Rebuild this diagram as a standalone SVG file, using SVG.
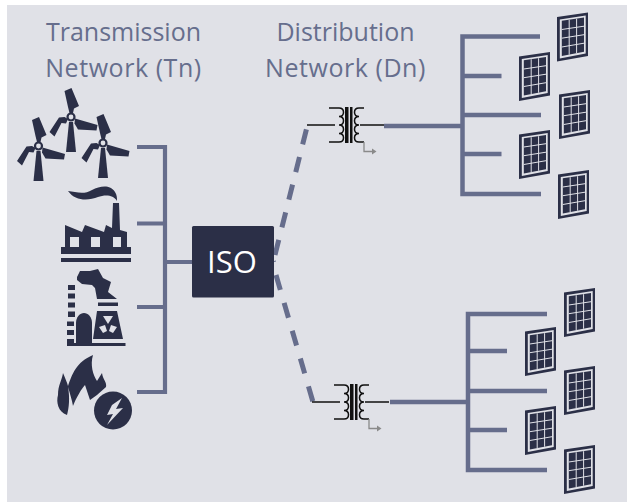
<svg xmlns="http://www.w3.org/2000/svg" width="627" height="502" viewBox="0 0 627 502">
<style>
.t{font-family:"Open Sans","Noto Sans",sans-serif;font-size:25px;fill:#666e8d;text-anchor:middle}
.n{letter-spacing:.55px}
.b{fill:none;stroke:#666d8c;stroke-width:4.500}
.th{stroke-width:4.200}
.dash{stroke-width:5}
.d{fill:#2b2f47}
.x{fill:none;stroke:#111;stroke-width:1.500}
</style>
<defs>
<g id="panel">
<path class="d" d="M0 4.500L31 0V43.500L0 49Z"/>
<path d="M2.800 7L28.700 3V40.900L2.800 45.900Z" fill="#e0e1e7"/>
<path class="d" d="M4.800 8.300L27 5.000V39.200L4.800 43.600Z"/>
<path stroke="#e0e1e7" stroke-width="1" fill="none" d="M12.200 7.300V42.200M19.600 6.200V40.700M4.800 17L27 13.700M4.800 25.700L27 22.200M4.800 34.500L27 30.700"/>
</g>
<g id="turbine">
<path class="d" d="M-2 5L2 5L5 35H-5Z"/>
<path class="d" d="M-6.500 -26L0.500 -29L8 -11L3 -8.500L2 -4L-1.500 -4L-3 -10Z"/>
<path class="d" d="M-21.500 15L-12 0.500L-6.500 0L-3 2L-5 6.500L-9.500 6L-16.500 19.500Z"/>
<path class="d" d="M4 1.500L26.500 8L25.500 13.500L7 12.500L3.500 6.500Z"/>
<circle cx="0" cy="0" r="3.500" fill="#e0e1e7" stroke="#2b2f47" stroke-width="2.200"/>
</g>
<g id="xfmr">
<path class="x" d="M0 17H28M22 0H32C38 0 38 8.500 32 8.500C38 8.500 38 17 32 17C38 17 38 25.500 32 25.500C38 25.500 38 34 32 34H22"/>
<path class="x" d="M53 17H77M57 0H52C46 0 46 8.500 52 8.500C46 8.500 46 17 52 17C46 17 46 25.500 52 25.500C46 25.500 46 34 52 34H57"/>
<path d="M38 -1H41.500V35H38ZM43 -1H45.500V35H43Z" fill="#111"/>
<path d="M57 34V43.500H65" fill="none" stroke="#8a8a8a" stroke-width="1.300"/>
<path d="M65 40.500L69.500 43.500L65 46.500Z" fill="#8a8a8a"/>
</g>
</defs>
<rect width="627" height="502" fill="#fff"/>
<rect x="7" y="5" width="620" height="497" fill="#e0e1e7"/>
<text class="t" x="123.500" y="41">Transmission</text>
<text class="t n" x="123.500" y="77">Network (Tn)</text>
<text class="t" x="345.500" y="41">Distribution</text>
<text class="t n" x="345.500" y="77">Network (Dn)</text>
<g id="connectors">
<path class="b th" d="M137 147H165V392H137M137 223.500H165M137 307H165M165 262H192"/>
<path class="b dash" d="M275 255L307 127" stroke-dasharray="15.500 13"/>
<path class="b dash" d="M276 275L313 402" stroke-dasharray="15.500 13.500"/>
<path d="M272 262L276 261" stroke="#666d8c" stroke-width="1" fill="none"/>
<path class="b" d="M384 126H462.500M540 36.500H462.500V194H541M462.500 76H501.500M462.500 115H541M462.500 154H501.500"/>
<path class="b" d="M390 402H468M547 314H468V470H547M468 351H507M468 391H547M468 430H507"/>
</g>
<g id="iso"><rect x="192" y="226" width="82" height="71.500" rx="1.500" class="d"/><text x="232" y="273" font-family="'Open Sans','Noto Sans',sans-serif" font-size="31" fill="#fff" text-anchor="middle">ISO</text></g>
<g id="wind"><use href="#turbine" x="71" y="117"/><use href="#turbine" x="38.500" y="146"/><use href="#turbine" x="103" y="143"/></g>
<g id="factory" class="d">
<path d="M68 191C76 192 84 195 92 190C100 186 110 184 115 192C117 195 117 198 117 201C113 194 104 195 98 197C88 201 75 201 68 191Z"/>
<path fill-rule="evenodd" d="M65 225L82 232L85 225L104 232L106 225L112 228L113 203H119L120 230L127 232V247H131V254H61V247H65ZM70 237V247H79V237ZM91 237V247H100V237ZM113 237V247H121V237Z"/>
<path d="M61 258H131V262H61Z"/>
</g>
<g id="nuclear" class="d">
<path d="M77 277L80 271L90 271L98 269L103 278L111 282L108 292L117 299H97L95 288L92 285L82 284L77 280Z"/>
<path d="M68 285H75V290H68ZM68 293.500H75V298.500H68ZM68 302.500H75V307.500H68ZM68 311.500H75V317H68ZM67 321.500H74V326H67ZM67 330H74V335H67ZM67 339H74V345H67Z"/>
<path d="M76 345V323C76 317 80 313 84 313C88 313 92 317 92 323V345Z"/>
<path d="M98 302.500H118V306H98Z"/>
<path fill-rule="evenodd" d="M97 311H117L123 339H93ZM103 316L108 324L113 316ZM99 327L105 325L107 331L103 333ZM117 327L111 325L109 331L113 333Z"/>
<path d="M67 343H125.500V346H67Z"/>
</g>
<g id="flame" class="d">
<path d="M93 355C90 365 93 375 97 381L102 373C103 380 107 382 106 387L97 395L90 400L85 385C82 388 76 398 73 406C72 400 70 394 68 387C70 398 69 408 67 415C58 412 56 402 58 395C58 385 62 380 63 373C65 378 67 382 68 386C72 375 76 362 93 355Z"/>
<circle cx="113" cy="410.500" r="19"/>
<path d="M122 398L112 405L107 415L113 414L107 425L123 408L116 409Z" fill="#e0e1e7"/>
</g>
<g id="xfmr1"><use href="#xfmr" x="307" y="108"/></g>
<g id="xfmr2"><use href="#xfmr" x="312" y="385"/></g>
<g id="panels-top"><use href="#panel" x="557" y="12.500"/><use href="#panel" x="519" y="52"/><use href="#panel" x="559" y="90"/><use href="#panel" x="519" y="130"/><use href="#panel" x="558" y="170"/></g>
<g id="panels-bottom"><use href="#panel" x="564" y="288"/><use href="#panel" x="525" y="327"/><use href="#panel" x="564" y="366"/><use href="#panel" x="525" y="406"/><use href="#panel" x="564" y="445"/></g>
</svg>
